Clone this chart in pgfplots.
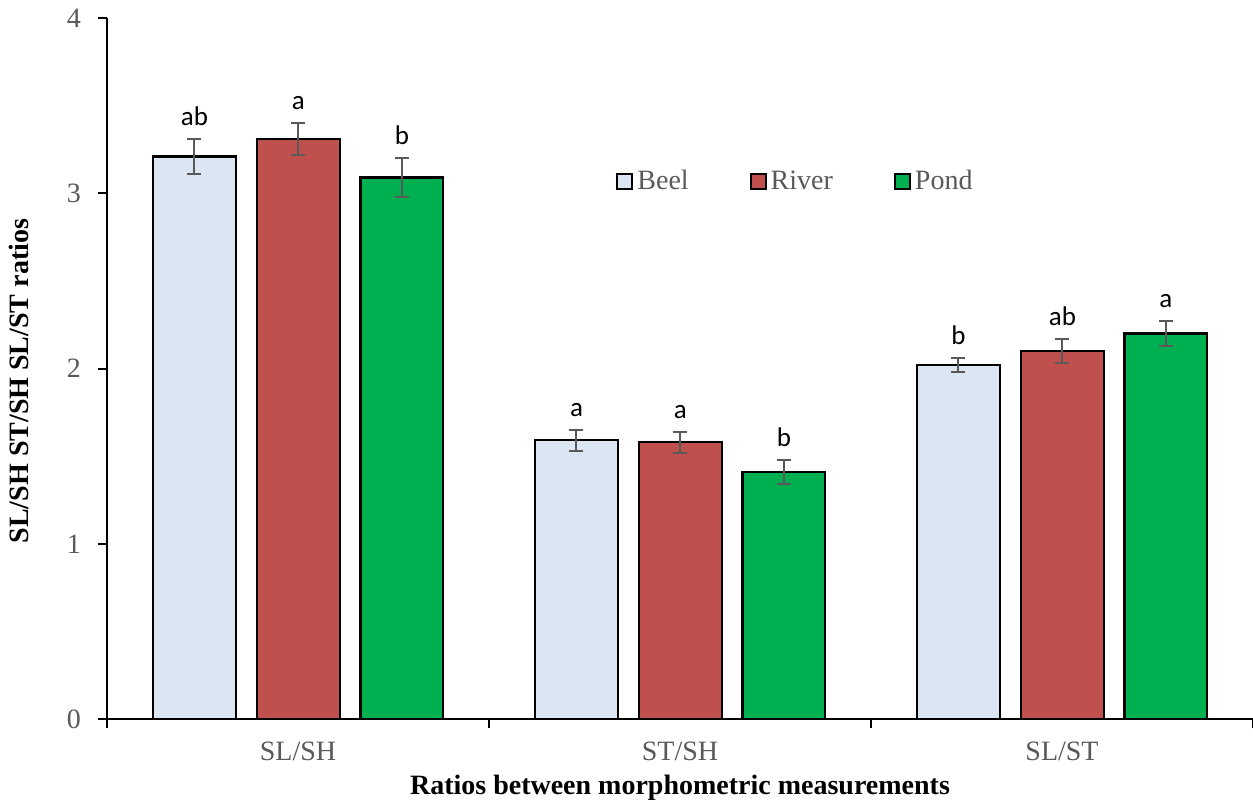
\documentclass[border=0pt]{standalone}
\usepackage{pgfplots}
\pgfplotsset{compat=1.18}
\usepackage{fontspec}
\setmainfont{Liberation Serif}
\newfontfamily\calfont{Carlito}
\definecolor{beel}{HTML}{DCE6F2}
\definecolor{river}{HTML}{C0504D}
\definecolor{pond}{HTML}{00B050}
\definecolor{tickgray}{HTML}{595959}
\begin{document}
\begin{tikzpicture}
\useasboundingbox (-53.5pt,-40.5pt) rectangle (573pt,359.5pt);
\begin{axis}[
  at={(0,0)}, anchor=south west,
  scale only axis, width=573pt, height=350.5pt,
  xmin=-0.5, xmax=2.5, ymin=0, ymax=4,
  axis x line*=bottom, axis y line*=left,
  axis line style={black, line width=1pt},
  tick align=outside, major tick length=4.5pt,
  tick style={black, line width=1pt},
  ytick={0,1,2,3,4},
  xtick={-0.5,0.5,1.5,2.5}, xticklabels={},
  extra x ticks={0,1,2}, extra x tick labels={SL/SH,ST/SH,SL/ST},
  extra x tick style={major tick length=0pt, tick style={draw=none}},
  /pgf/number format/assume math mode=true,
  tick label style={font=\fontsize{14}{16}\selectfont, text=tickgray},
  yticklabel style={xshift=-5pt},
  xticklabel style={yshift=-8pt},
  xlabel={Ratios between morphometric measurements},
  ylabel={SL/SH ST/SH SL/ST ratios},
  label style={font=\fontsize{14}{16}\selectfont\bfseries},
  xlabel style={at={(axis description cs:0.5,-0.108)}, anchor=base},
  ylabel style={at={(axis description cs:-0.0765,0.482)}, anchor=center},
  legend style={at={(axis cs:0.8325,3.067)}, anchor=west, draw=none, fill=none,
    inner sep=0pt, legend columns=3, font=\fontsize{14}{16}\selectfont, text=tickgray,
    /tikz/every even column/.append style={column sep=28.5pt}},
  legend image code/.code={\draw[#1, line width=1pt] (0pt,-3.75pt) rectangle (7.5pt,3.75pt);},
  error bars/error bar style={tickgray, line width=1pt},
  error bars/error mark options={rotate=90, tickgray, line width=1pt, mark size=3.5pt},
]
\addplot[ybar, bar width=0.217, bar shift=0pt, fill=beel, draw=black, line width=1.1pt,
  error bars/.cd, y dir=both, y explicit]
  coordinates {(-0.271,3.21) +- (0,0.10) (0.729,1.59) +- (0,0.06) (1.729,2.02) +- (0,0.04)};
\addlegendentry{Beel}
\addplot[ybar, bar width=0.217, bar shift=0pt, fill=river, draw=black, line width=1.1pt,
  error bars/.cd, y dir=both, y explicit]
  coordinates {(0.001,3.31) +- (0,0.09) (1.001,1.58) +- (0,0.06) (2.001,2.10) +- (0,0.07)};
\addlegendentry{River}
\addplot[ybar, bar width=0.217, bar shift=0pt, fill=pond, draw=black, line width=1.1pt,
  error bars/.cd, y dir=both, y explicit]
  coordinates {(0.272,3.09) +- (0,0.11) (1.272,1.41) +- (0,0.07) (2.272,2.20) +- (0,0.07)};
\addlegendentry{Pond}
\addplot[draw=none, mark=none, forget plot, nodes near coords, point meta=explicit symbolic,
  nodes near coords style={font=\calfont\fontsize{13.5}{15}\selectfont, text=black, anchor=south, inner sep=0pt, yshift=6.5pt}]
  coordinates {(-0.271,3.31)[ab] (0.001,3.40)[a] (0.272,3.20)[b]
               (0.729,1.65)[a] (1.001,1.64)[a] (1.272,1.48)[b]
               (1.729,2.06)[b] (2.001,2.17)[ab] (2.272,2.27)[a]};
\end{axis}
\end{tikzpicture}
\end{document}
